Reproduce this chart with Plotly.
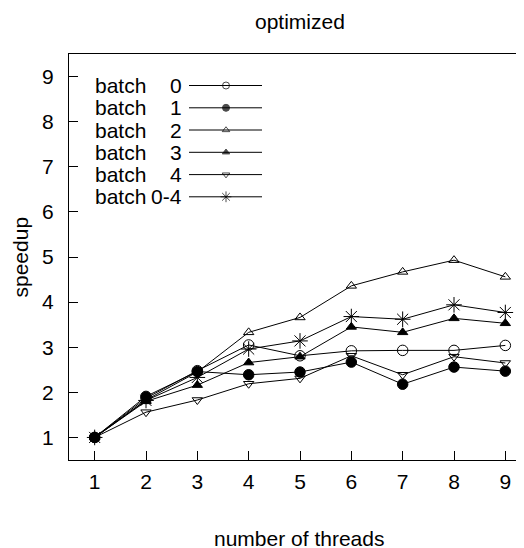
import plotly.graph_objects as go

# ---------------- data ----------------
threads = [1, 2, 3, 4, 5, 6, 7, 8, 9]
batch0 = [1.00, 1.87, 2.48, 3.05, 2.81, 2.92, 2.93, 2.93, 3.04]
batch1 = [1.00, 1.91, 2.46, 2.39, 2.45, 2.67, 2.18, 2.56, 2.47]
batch2 = [1.00, 1.83, 2.45, 3.33, 3.66, 4.36, 4.67, 4.93, 4.56]
batch3 = [1.00, 1.80, 2.16, 2.66, 2.79, 3.45, 3.33, 3.64, 3.53]
batch4 = [1.00, 1.56, 1.83, 2.19, 2.31, 2.81, 2.39, 2.79, 2.65]
batch04 = [1.00, 1.82, 2.33, 2.96, 3.14, 3.68, 3.62, 3.94, 3.77]

series_names = ["0", "1", "2", "3", "4", "0-4"]
series_values = [batch0, batch1, batch2, batch3, batch4, batch04]
series_symbols = ["circle-open", "circle", "triangle-up-open", "triangle-up",
                  "triangle-down-open", "asterisk-open"]
series_sizes = [10.5, 10.5, 9, 9, 9, 13]
key_sizes = [7, 7, 6.5, 6.5, 6.5, 9]
x_ticks = [1, 2, 3, 4, 5, 6, 7, 8, 9]
y_ticks = [1, 2, 3, 4, 5, 6, 7, 8, 9]

# ---------------- layout geometry ----------------
# The page body has a default 8px margin, so figure pixel = screen pixel - 8.
OFF = 8
W, H = 524, 548
# plot frame in screen pixels (right edge falls just outside the window)
L, R, T, B = 69, 531, 54, 460
FONT = dict(family="Liberation Sans, Arial, sans-serif", size=21, color="black")


def px_x(px):
    return (px - L) / (R - L)


def px_y(py):
    return (B - py) / (B - T)


fig = go.Figure()

for name, vals, sym, sz in zip(series_names, series_values, series_symbols,
                               series_sizes):
    fig.add_trace(go.Scatter(
        x=threads, y=vals, mode="lines+markers", name="batch " + name,
        line=dict(color="black", width=1),
        marker=dict(symbol=sym, size=sz, color="black",
                    line=dict(color="black", width=1)),
        showlegend=False, xaxis="x", yaxis="y",
    ))

# manual key (gnuplot style: text on the left, sample on the right)
row_y = [85.5, 107.8, 130.0, 152.3, 174.6, 196.8]
annotations = []
for name, sym, ksz, ry in zip(series_names, series_symbols, key_sizes, row_y):
    fig.add_trace(go.Scatter(
        x=[189, 226, 262], y=[ry, ry, ry], mode="lines+markers",
        line=dict(color="black", width=1),
        marker=dict(symbol=sym, size=[0, ksz, 0], color="black",
                    line=dict(color="black", width=1)),
        showlegend=False, hoverinfo="skip", xaxis="x3", yaxis="y3",
    ))
    annotations.append(dict(x=92.5, y=ry, xref="x3", yref="y3", text="batch",
                            showarrow=False, xanchor="left", yanchor="middle",
                            font=FONT))
    annotations.append(dict(x=184, y=ry, xref="x3", yref="y3", text=name,
                            showarrow=False, xanchor="right", yanchor="middle",
                            font=FONT))

annotations += [
    dict(text="optimized", x=px_x(300), y=px_y(21), xref="paper", yref="paper",
         showarrow=False, xanchor="center", yanchor="middle", font=FONT),
    dict(text="number of threads", x=px_x(299), y=px_y(538.5), xref="paper",
         yref="paper", showarrow=False, xanchor="center", yanchor="middle",
         font=FONT),
    dict(text="speedup", x=px_x(19.5), y=px_y(257), xref="paper", yref="paper",
         showarrow=False, xanchor="center", yanchor="middle", textangle=-90,
         font=FONT),
]

fig.update_layout(
    width=W, height=H,
    margin=dict(l=L - OFF, r=max(0, W - (R - OFF)), t=T - OFF, b=H - (B - OFF),
                pad=0),
    paper_bgcolor="white", plot_bgcolor="white",
    font=FONT,
    showlegend=False,
    xaxis=dict(range=[0.5, 9.5], tickvals=x_ticks, ticks="inside", ticklen=9,
               tickwidth=1, tickcolor="black", showline=True, linecolor="black",
               linewidth=1, mirror=True, showgrid=False, zeroline=False,
               ticklabelstandoff=3, tickfont=FONT),
    yaxis=dict(range=[0.5, 9.5], tickvals=y_ticks, ticks="inside", ticklen=9,
               tickwidth=1, tickcolor="black", showline=True, linecolor="black",
               linewidth=1, mirror=True, showgrid=False, zeroline=False,
               ticklabelstandoff=10, tickfont=FONT),
    xaxis3=dict(range=[L, R], domain=[0, 1], visible=False, anchor="y3",
                overlaying="x"),
    yaxis3=dict(range=[B, T], domain=[0, 1], visible=False, anchor="x3",
                overlaying="y"),
    annotations=annotations,
)

fig.write_html("out.html")
